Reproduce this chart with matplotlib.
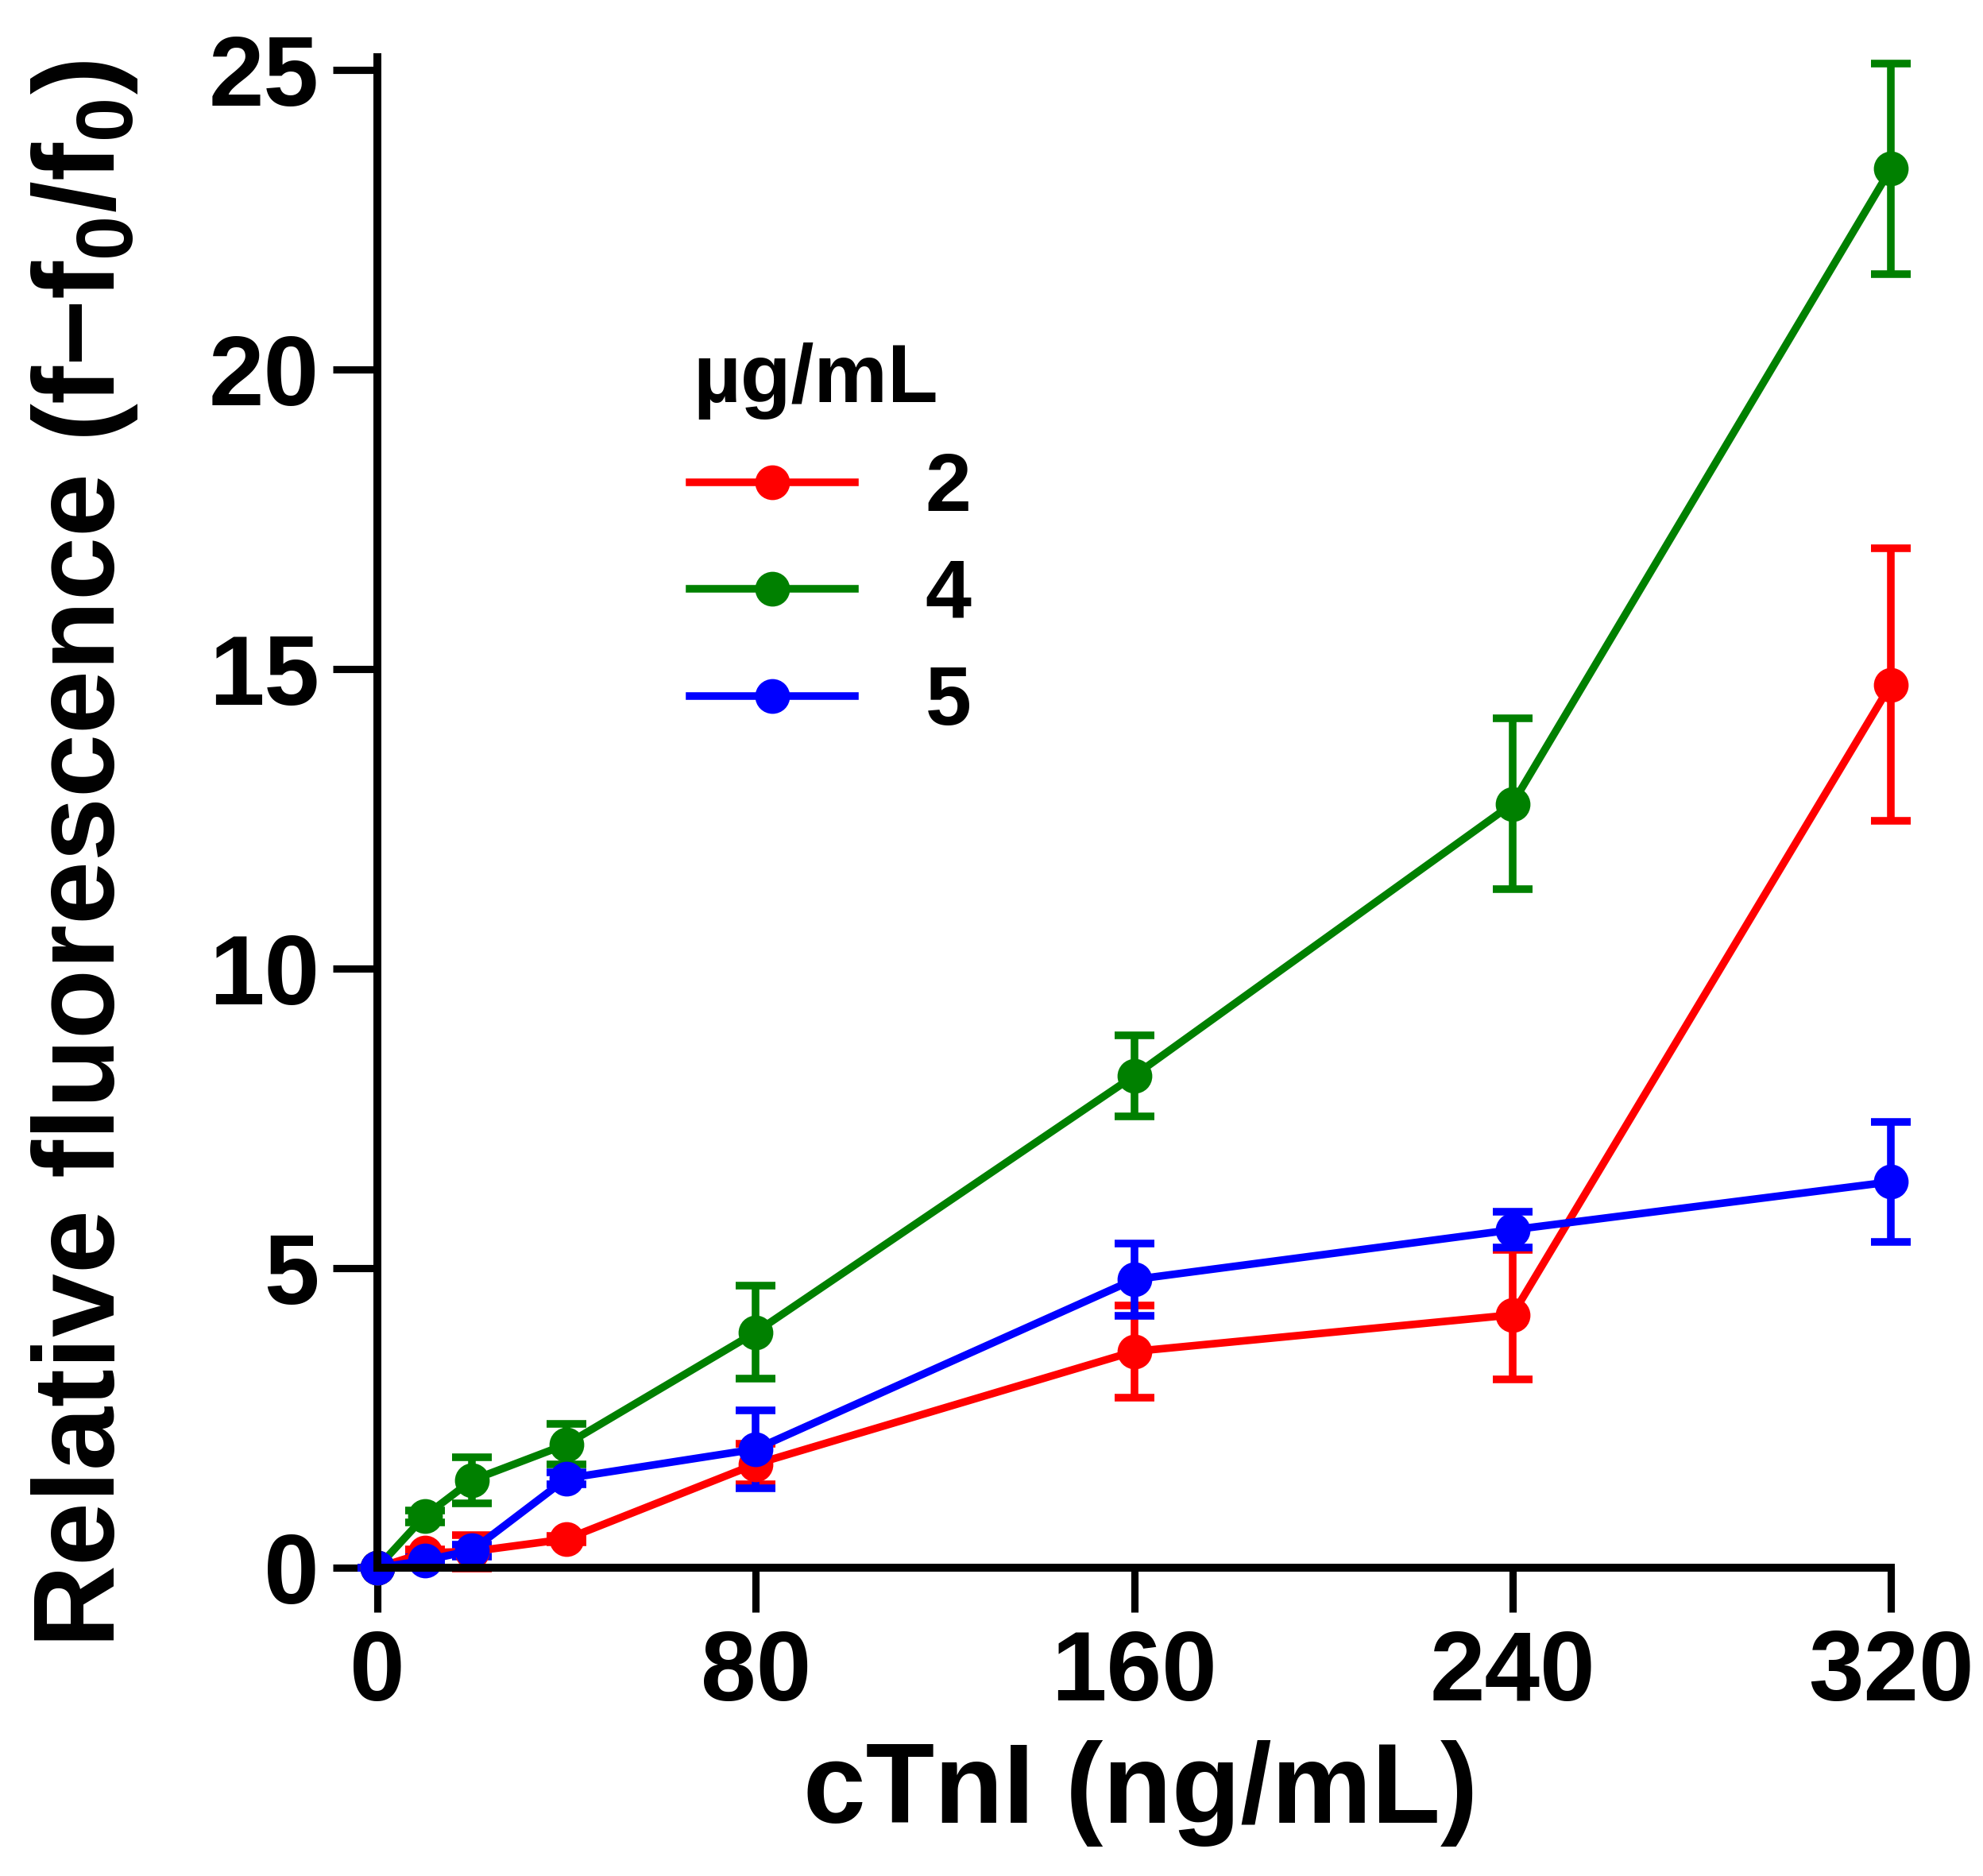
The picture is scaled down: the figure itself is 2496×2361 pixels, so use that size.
import matplotlib
matplotlib.use("Agg")
import matplotlib.pyplot as plt
from matplotlib.lines import Line2D

plt.rcParams['font.family'] = ['Liberation Sans', 'DejaVu Sans']
plt.rcParams['font.weight'] = 'bold'
plt.rcParams['mathtext.fontset'] = 'custom'
plt.rcParams['mathtext.rm'] = 'Liberation Sans:bold'
plt.rcParams['mathtext.it'] = 'Liberation Sans:bold'
plt.rcParams['mathtext.bf'] = 'Liberation Sans:bold'

# cTnI concentration (ng/mL)
conc = [0, 10, 20, 40, 80, 160, 240, 320]

# relative fluorescence for each probe concentration (ug/mL) and its error
labels = ['2', '4', '5']
colors = ['#FF0000', '#008000', '#0000FF']
y_2 = [0, 0.25, 0.27, 0.48, 1.73, 3.61, 4.22, 14.74]
err_2 = [0, 0.05, 0.28, 0.05, 0.34, 0.77, 1.08, 2.27]
y_4 = [0, 0.86, 1.46, 2.06, 3.93, 8.21, 12.75, 23.35]
err_4 = [0, 0.1, 0.38, 0.34, 0.78, 0.68, 1.43, 1.76]
y_5 = [0, 0.12, 0.29, 1.49, 1.98, 4.81, 5.64, 6.44]
err_5 = [0, 0.05, 0.1, 0.1, 0.65, 0.6, 0.3, 1.0]

x_ticks = [0, 80, 160, 240, 320]
y_ticks = [0, 5, 10, 15, 20, 25]

W, H = 2496, 2361
fig = plt.figure(figsize=(W / 300, H / 300), dpi=300)
# axes box in pixels: left 475, right 2380, x axis at 1973, y spine top at 72
ax = fig.add_axes([475 / W, 1 - 1973 / H, (2380 - 475) / W, (1973 - 72) / H])

lw = 2.3
handles = []
for y, e, c, lab in zip([y_2, y_4, y_5], [err_2, err_4, err_5], colors, labels):
    ax.errorbar(conc, y, yerr=e, color=c, lw=lw, marker='o', ms=9.5,
                capsize=6, capthick=lw, elinewidth=lw, clip_on=False)
    handles.append(Line2D([], [], color=c, lw=lw, marker='o', ms=9.5, label=lab))

ax.set_xlim(0, 320)
ax.set_ylim(0, 25.21)
ax.set_xticks(x_ticks)
ax.set_yticks(y_ticks)
for s in ['top', 'right']:
    ax.spines[s].set_visible(False)
for s in ['left', 'bottom']:
    ax.spines[s].set_linewidth(2.4)
ax.tick_params(axis='both', width=2.2, length=13.5, labelsize=30)
ax.tick_params(axis='x', pad=5)
ax.tick_params(axis='y', pad=4)

fig.text(0.575, 0.044, 'cTnI (ng/mL)', ha='center', va='center',
         fontsize=34, fontweight='bold')
fig.text(107 / W, 0.545, 'Relative fluorescence (f\u2212f$_0$/f$_0$)',
         ha='center', va='center', rotation=90, fontsize=34.5, fontweight='bold')

# legend title drawn separately, the rows sit a bit lower than a normal title gap
fig.text(872 / W, 1 - 480 / H, '\u00b5g/mL', ha='left', va='center',
         fontsize=25, fontweight='bold')
leg = fig.legend(handles=handles, loc='center left',
                 bbox_to_anchor=(868 / W, 1 - 751 / H), frameon=False,
                 fontsize=25, handlelength=2.0, handletextpad=0.85,
                 labelspacing=0.36, borderpad=0, borderaxespad=0)
for t in leg.get_texts():
    t.set_fontweight('bold')

fig.savefig('out.png', dpi=300)
